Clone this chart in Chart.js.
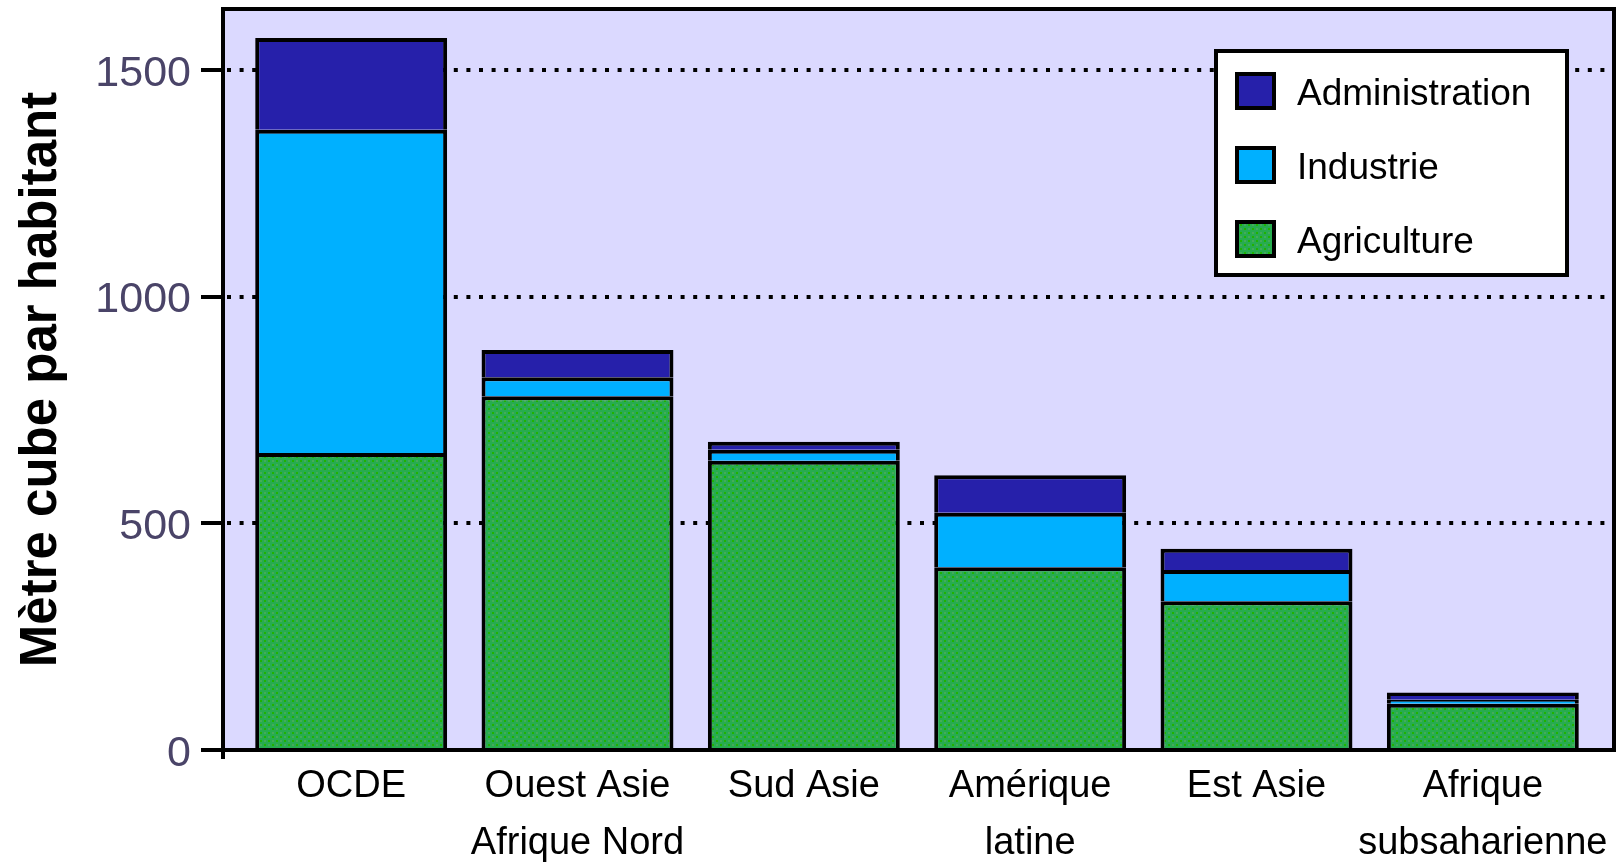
<!DOCTYPE html>
<html><head><meta charset="utf-8">
<script src="https://cdn.jsdelivr.net/npm/chart.js@4/dist/chart.umd.min.js"></script>
<style>html,body{margin:0;padding:0;background:#fff;}canvas{display:block;}</style>
</head><body>
<canvas id="c" width="1623" height="864"></canvas>
<script>
const categories = [['OCDE'], ['Ouest Asie', 'Afrique Nord'], ['Sud Asie'], ['Amérique', 'latine'], ['Est Asie'], ['Afrique', 'subsaharienne']];
const seriesNames = ['Agriculture', 'Industrie', 'Administration'];
const agriculture = [655, 780, 638, 403, 328, 102];
const industrie = [713, 42, 24, 120, 69, 9];
const administration = [202, 60, 18, 83, 47, 16];
const yTicks = [0, 500, 1000, 1500];
const yTickLabels = ['0', '500', '1000', '1500'];
const yTitle = 'Mètre cube par habitant';
const yMax = 1634;

const FONT = '"Liberation Sans", Arial, sans-serif';

function makePattern() {
  const p = document.createElement('canvas');
  p.width = 8; p.height = 8;
  const g = p.getContext('2d');
  g.fillStyle = '#27ac4f'; g.fillRect(0, 0, 8, 8);
  g.fillStyle = '#1fb300'; g.fillRect(0, 0, 2, 2); g.fillRect(4, 4, 2, 2);
  g.fillStyle = '#45ab5c'; g.fillRect(4, 0, 2, 2); g.fillRect(0, 4, 2, 2);
  return g.createPattern(p, 'repeat');
}
const agriFill = makePattern();
const colors = [agriFill, '#00b0ff', '#2620aa'];

const framePlugin = {
  id: 'framePlugin',
  beforeDraw(chart) {
    const {ctx, chartArea: a, scales: {y}} = chart;
    const L = a.left - 15, R = a.right + 18, T = a.top, B = a.bottom;
    ctx.save();
    ctx.fillStyle = '#dbd9ff';
    ctx.fillRect(L, T, R - L, B - T);
    ctx.strokeStyle = '#000';
    ctx.lineWidth = 4;
    ctx.setLineDash([4, 8.6]);
    yTicks.forEach(v => {
      if (v === 0) return;
      const py = Math.round(y.getPixelForValue(v));
      ctx.beginPath(); ctx.moveTo(L + 4, py); ctx.lineTo(R - 2, py); ctx.stroke();
    });
    ctx.restore();
  },
  afterDatasetsDraw(chart) {
    const {ctx, chartArea: a, scales: {y}} = chart;
    const L = a.left - 15, R = a.right + 18, T = a.top, B = a.bottom;
    ctx.save();
    ctx.strokeStyle = '#000';
    ctx.lineWidth = 4;
    ctx.strokeRect(L, T, R - L, B - T);
    ctx.beginPath(); ctx.moveTo(L, B); ctx.lineTo(L, B + 9); ctx.stroke();
    yTicks.forEach(v => {
      const py = Math.round(y.getPixelForValue(v));
      ctx.beginPath(); ctx.moveTo(L - 22, py); ctx.lineTo(L, py); ctx.stroke();
    });
    const bx = 1216, by = 51, bw = 351, bh = 224;
    ctx.fillStyle = '#fff';
    ctx.fillRect(bx, by, bw, bh);
    ctx.strokeRect(bx, by, bw, bh);
    const ds = chart.data.datasets.slice().reverse();
    const rowsY = [91, 165, 239];
    ds.forEach((d, i) => {
      const cy = rowsY[i];
      ctx.fillStyle = d.backgroundColor;
      ctx.fillRect(1237, cy - 17, 37, 34);
      ctx.strokeRect(1237, cy - 17, 37, 34);
      ctx.fillStyle = '#000';
      ctx.font = '37px ' + FONT;
      ctx.textBaseline = 'alphabetic';
      ctx.textAlign = 'left';
      ctx.fillText(d.label, 1297, cy + 14);
    });
    ctx.restore();
  }
};

const datasets = [agriculture, industrie, administration].map((vals, i) => ({
  label: seriesNames[i],
  data: vals,
  backgroundColor: colors[i],
  borderColor: '#000',
  borderWidth: 4,
  borderSkipped: 'start',
  categoryPercentage: 1,
  barPercentage: 0.848
}));

new Chart(document.getElementById('c'), {
  type: 'bar',
  data: { labels: categories, datasets },
  plugins: [framePlugin],
  options: {
    responsive: false,
    devicePixelRatio: 1,
    animation: false,
    layout: { padding: { top: 9, right: 27, bottom: 0, left: 0 } },
    plugins: { legend: { display: false }, tooltip: { enabled: false } },
    scales: {
      x: {
        stacked: true,
        grid: { display: false, drawTicks: false },
        border: { display: false },
        ticks: {
          color: '#000',
          font: { family: FONT, size: 38, lineHeight: 1.5 },
          padding: 8,
          maxRotation: 0,
          autoSkip: false
        },
        afterFit(s) { s.height = 114; s.paddingLeft = 0; s.paddingRight = 0; }
      },
      y: {
        stacked: true,
        min: 0,
        max: yMax,
        grid: { display: false, drawTicks: false },
        border: { display: false },
        afterBuildTicks(s) { s.ticks = yTicks.map(v => ({ value: v })); },
        ticks: {
          color: '#4a4468',
          font: { family: FONT, size: 43 },
          padding: 47,
          labelOffset: 4,
          callback: (v) => yTickLabels[yTicks.indexOf(v)]
        },
        title: {
          display: true,
          text: yTitle,
          color: '#000',
          font: { family: FONT, size: 51, weight: 'bold' },
          padding: { top: 11, bottom: 0 }
        },
        afterFit(s) { s.width = 238; s.paddingTop = 0; s.paddingBottom = 0; }
      }
    }
  }
});
</script>
</body></html>
